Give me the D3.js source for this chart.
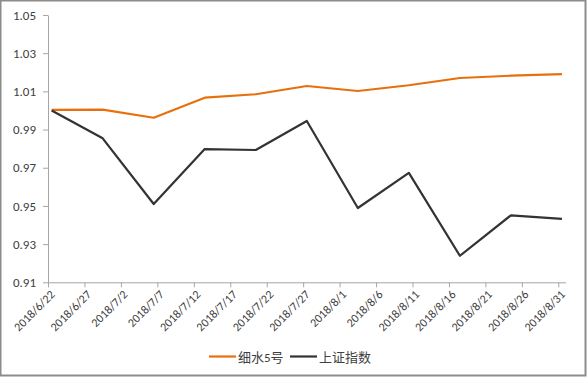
<!DOCTYPE html>
<html>
<head>
<meta charset="utf-8">
<script src="https://cdn.jsdelivr.net/npm/d3@7"></script>
<style>
  html, body { margin: 0; padding: 0; background: #fff; }
  svg { display: block; }
  text { font-family: Carlito, Lato, "Noto Sans CJK SC", sans-serif; fill: #404040; }
</style>
</head>
<body>
<svg id="chart" width="587" height="378"></svg>
<script>
// ---- data ----
const dates = ["2018-06-22 12:00","2018-06-29 12:00","2018-07-06 12:00","2018-07-13 12:00","2018-07-20 12:00","2018-07-27 12:00","2018-08-03 12:00","2018-08-10 12:00","2018-08-17 12:00","2018-08-24 12:00","2018-08-31 12:00"];
const seriesNames = ["细水5号", "上证指数"];
const xishui5 = [1.0003, 1.0004, 0.9962, 1.0067, 1.0085, 1.0128, 1.0102, 1.0132, 1.0170, 1.0182, 1.0190];
const shangzheng = [1.0000, 0.9854, 0.9510, 0.9798, 0.9793, 0.9945, 0.9489, 0.9673, 0.9239, 0.9451, 0.9432];
const xTickLabels = ["2018/6/22","2018/6/27","2018/7/2","2018/7/7","2018/7/12","2018/7/17","2018/7/22","2018/7/27","2018/8/1","2018/8/6","2018/8/11","2018/8/16","2018/8/21","2018/8/26","2018/8/31"];
const yTicks = [0.91, 0.93, 0.95, 0.97, 0.99, 1.01, 1.03, 1.05];
const colors = ["#E8700C", "#333333"];

const parseDT = d3.timeParse("%Y-%m-%d %H:%M");
const parseTick = d3.timeParse("%Y/%m/%d");

const svg = d3.select("#chart");

// outer frame
svg.append("rect").attr("x", 0.5).attr("y", 0.5).attr("width", 585).attr("height", 375)
  .attr("fill", "#fff").attr("stroke", "#8c8c8c").attr("stroke-width", 2);

const x = d3.scaleTime()
  .domain([parseTick("2018/6/22"), parseTick("2018/9/1")])
  .range([48, 565.6]);
const y = d3.scaleLinear().domain([0.91, 1.05]).range([282.3, 15]);

const axisColor = "#a6a6a6";

// y axis
const yAxis = svg.append("g").attr("transform", "translate(48,0)")
  .call(d3.axisLeft(y).tickValues(yTicks).tickFormat(d3.format(".2f")).tickSizeInner(5).tickSizeOuter(0));
yAxis.select(".domain").attr("stroke", axisColor);
yAxis.selectAll(".tick line").attr("stroke", axisColor);
yAxis.selectAll(".tick text").attr("x", -12).attr("font-size", 13).style("fill", "#404040")
  .attr("font-family", "Carlito, Lato, sans-serif");

// x axis
const tickDates = xTickLabels.map(parseTick);
const xAxis = svg.append("g").attr("transform", "translate(0,282.3)")
  .call(d3.axisBottom(x).tickValues(tickDates).tickFormat((d, i) => xTickLabels[i]).tickSizeInner(5).tickSizeOuter(0));
xAxis.select(".domain").attr("stroke", axisColor);
xAxis.selectAll(".tick line").attr("stroke", axisColor);
xAxis.selectAll(".tick text")
  .attr("font-size", 12)
  .style("fill", "#404040")
  .attr("text-anchor", "end")
  .attr("dy", 0)
  .attr("y", 0)
  .attr("transform", "translate(7,13) rotate(-45)");

// lines
const series = [xishui5, shangzheng];
const line = d3.line().x((d, i) => x(parseDT(dates[i]))).y(d => y(d));
series.forEach((s, k) => {
  svg.append("path").datum(s)
    .attr("fill", "none")
    .attr("stroke", colors[k])
    .attr("stroke-width", 2.2)
    .attr("stroke-linejoin", "round")
    .attr("d", line);
});

// legend
const legendItems = [{x: 209, name: seriesNames[0], c: colors[0]}, {x: 290, name: seriesNames[1], c: colors[1]}];
legendItems.forEach(it => {
  svg.append("line").attr("x1", it.x).attr("x2", it.x + 27).attr("y1", 356.5).attr("y2", 356.5)
    .attr("stroke", it.c).attr("stroke-width", 2.2);
  svg.append("text").attr("x", it.x + 29).attr("y", 361.5).attr("font-size", 13)
    .attr("font-family", "\"Noto Sans CJK SC\", sans-serif").style("fill", "#404040")
    .text(it.name);
});
</script>
</body>
</html>
